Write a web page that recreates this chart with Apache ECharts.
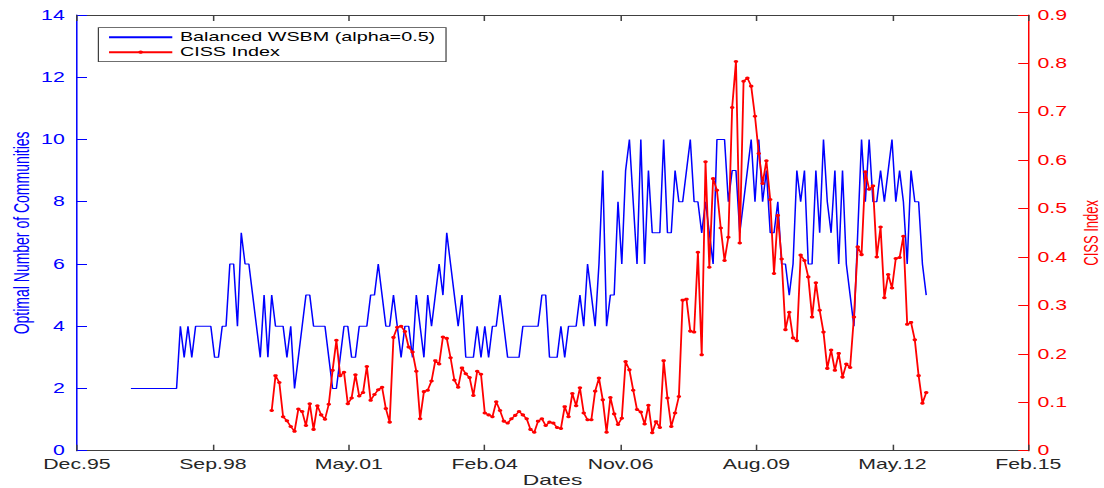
<!DOCTYPE html>
<html>
<head>
    <meta charset="utf-8">
    <title></title>
    <style type="text/css">
        body { margin: 0; overflow: hidden; background: #fff; }
        /* the original figure is stretched sideways, so the chart is drawn narrow and widened */
        #main { width: 726px; height: 488px; transform: scaleX(1.5207); transform-origin: 0 0; }
    </style>
</head>
<body>
<div id="main"></div>

<script type="text/javascript" src="https://cdn.jsdelivr.net/npm/echarts@6/dist/echarts.min.js"></script>
<script type="text/javascript">
    // x axis: days after 6-Dec-1995, ticks every 1000 days
    var tickLabels = ['Dec.95', 'Sep.98', 'May.01', 'Feb.04', 'Nov.06', 'Aug.09', 'May.12', 'Feb.15'];
    var dayStep = 28;          // one observation every 4 weeks
    var wsbmStartDay = 397;
    var cissStartDay = 1433;

    var wsbmCommunities = [
        2, 2, 2, 2, 2, 2, 2, 2, 2, 2, 2, 2, 2,
        4, 3, 4, 3, 4, 4, 4, 4, 4, 3, 3, 4, 4, 6, 6, 4, 7, 6, 6, 5, 4, 3, 5, 3, 5, 4, 4, 4, 3,
        4, 2, 3, 4, 5, 5, 4, 4, 4, 4, 3, 2, 2, 3, 4, 4, 3, 3, 4, 4, 4, 5, 5, 6, 5, 4, 4, 5, 4, 3, 4, 4, 3, 5, 4, 3,
        5, 4, 5, 6, 5, 7, 6, 5, 4, 5, 3, 3, 3, 4, 3, 4, 3, 4, 4, 5, 4, 3, 3, 3, 3, 4, 4, 4, 4, 4, 5, 5, 3, 3, 3, 4, 3, 4, 4, 4, 5, 4, 6,
        5, 4, 6, 9, 4, 5, 5, 8, 6, 9, 10, 8, 6, 10, 6, 9, 7, 7, 7, 10, 7, 7, 9, 8, 8, 9, 10, 8, 8, 7, 8, 7,
        6, 10, 10, 10, 8, 9, 9, 7, 8, 9, 10, 8, 10, 8, 9, 7, 7, 8, 6, 6, 5, 6, 9, 8, 9, 6, 6,
        9, 7, 10, 8, 7, 9, 6, 9, 6, 5, 4, 7, 10, 8, 10, 8, 8, 9, 8, 9, 10, 8, 9, 8, 6, 9, 8, 8, 6, 5
    ];

    var cissIndex = [
        0.083, 0.155, 0.141, 0.070, 0.062, 0.050, 0.040, 0.086, 0.081, 0.052, 0.097, 0.044, 0.093, 0.074, 0.065,
        0.096, 0.166, 0.228, 0.155, 0.162, 0.097, 0.109, 0.157, 0.113, 0.120, 0.174, 0.104, 0.116, 0.126, 0.131,
        0.087, 0.059, 0.234, 0.255, 0.257, 0.246, 0.214, 0.204, 0.164, 0.066,
        0.122, 0.125, 0.144, 0.186, 0.179, 0.235, 0.232, 0.192, 0.146, 0.131, 0.171, 0.159, 0.151, 0.114, 0.164,
        0.158, 0.078, 0.074, 0.070, 0.101, 0.083, 0.061, 0.057, 0.066, 0.073, 0.081, 0.074, 0.066, 0.044, 0.038,
        0.061, 0.066, 0.052, 0.059, 0.057, 0.048, 0.046, 0.091, 0.070, 0.118, 0.093, 0.130, 0.078, 0.064,
        0.064, 0.123, 0.150, 0.105, 0.038, 0.110, 0.076, 0.054, 0.067, 0.184, 0.167, 0.125, 0.085, 0.080, 0.055,
        0.094, 0.037, 0.060, 0.048, 0.186, 0.109, 0.050, 0.078, 0.112, 0.311, 0.313, 0.247, 0.245, 0.410, 0.198,
        0.597, 0.379,
        0.562, 0.538, 0.460, 0.393, 0.441, 0.709, 0.804, 0.429, 0.763, 0.770, 0.753, 0.691, 0.614, 0.552, 0.599,
        0.519, 0.366, 0.486, 0.396, 0.250, 0.286, 0.233, 0.227, 0.404, 0.393, 0.359, 0.276,
        0.347, 0.290, 0.245, 0.170, 0.208, 0.166, 0.201, 0.152, 0.179, 0.172, 0.276, 0.421, 0.405, 0.576, 0.540,
        0.547, 0.400, 0.462, 0.316, 0.364, 0.336, 0.397, 0.399, 0.443, 0.261, 0.265, 0.229, 0.155, 0.098, 0.120
    ];

    var font = 'Liberation Sans, Arial, Helvetica, sans-serif';
    var axisGray = '#404040';

    var wsbmPoints = wsbmCommunities.map(function (v, i) { return [wsbmStartDay + i * dayStep, v]; });
    var cissPoints = cissIndex.map(function (v, i) { return [cissStartDay + i * dayStep, v]; });

    var myChart = echarts.init(document.getElementById('main'), null, { renderer: 'svg' });

    myChart.setOption({
        animation: false,
        grid: { left: 50.6, right: 49.8, top: 15, bottom: 37.3, containLabel: false, outerBoundsMode: 'none' },
        legend: {
            orient: 'vertical',
            left: 64.7,
            top: 27.7,
            itemWidth: 41.6,
            itemHeight: 4,
            itemGap: 0,
            padding: [2, 7, 2, 6],
            borderColor: axisGray,
            borderWidth: 0.8,
            backgroundColor: '#fff',
            textStyle: { fontFamily: font, fontSize: 13, color: '#000', lineHeight: 15 },
            data: [
                { name: 'Balanced WSBM (alpha=0.5)', itemStyle: { opacity: 0 } },
                { name: 'CISS Index' }
            ]
        },
        xAxis: [{
            type: 'value',
            min: 0,
            max: 7000,
            interval: 1000,
            position: 'bottom',
            splitLine: { show: false },
            axisLine: { onZero: false, lineStyle: { color: axisGray, width: 1 } },
            axisTick: { inside: true, length: 6, lineStyle: { color: axisGray } },
            axisLabel: {
                margin: 7, fontFamily: font, fontSize: 14, lineHeight: 13, color: '#262626',
                showMinLabel: true, showMaxLabel: true,
                formatter: function (v) { return tickLabels[Math.round(v / 1000)]; }
            },
            name: 'Dates',
            nameLocation: 'middle',
            nameGap: 22,
            nameMoveOverlap: false,
            nameTextStyle: { fontFamily: font, fontSize: 15, color: '#262626' }
        }, {
            type: 'value',
            min: 0,
            max: 7000,
            interval: 1000,
            position: 'top',
            splitLine: { show: false },
            axisLine: { onZero: false, lineStyle: { color: axisGray, width: 1 } },
            axisTick: { inside: true, length: 6, lineStyle: { color: axisGray } },
            axisLabel: { show: false }
        }],
        yAxis: [{
            type: 'value',
            min: 0,
            max: 14,
            interval: 2,
            position: 'left',
            splitLine: { show: false },
            axisLine: { show: true, onZero: false, lineStyle: { color: '#0000ff', width: 1 } },
            axisTick: { show: true, inside: true, length: 6.6, lineStyle: { color: '#0000ff' } },
            axisLabel: { margin: 8, fontFamily: font, fontSize: 14, lineHeight: 12, color: '#0000ff' },
            name: 'Optimal Number of Communities',
            nameLocation: 'middle',
            nameRotate: 90,
            nameGap: 29,
            nameMoveOverlap: false,
            nameTextStyle: { fontFamily: font, fontSize: 14, color: '#0000ff' }
        }, {
            type: 'value',
            min: 0,
            max: 0.9,
            interval: 0.1,
            position: 'right',
            splitLine: { show: false },
            axisLine: { show: true, onZero: false, lineStyle: { color: '#ff0000', width: 1 } },
            axisTick: { show: true, inside: true, length: 6.6, lineStyle: { color: '#ff0000' } },
            axisLabel: { margin: 6, fontFamily: font, fontSize: 14, lineHeight: 12, color: '#ff0000' },
            name: 'CISS Index',
            nameLocation: 'middle',
            nameRotate: 90,
            nameGap: 35,
            nameMoveOverlap: false,
            nameTextStyle: { fontFamily: font, fontSize: 13, color: '#ff0000' }
        }],
        series: [{
            name: 'Balanced WSBM (alpha=0.5)',
            type: 'line',
            xAxisIndex: 0,
            yAxisIndex: 0,
            symbol: 'none',
            itemStyle: { color: '#0000ff' },
            lineStyle: { color: '#0000ff', width: 1 },
            data: wsbmPoints
        }, {
            name: 'CISS Index',
            type: 'line',
            xAxisIndex: 0,
            yAxisIndex: 1,
            symbol: 'circle',
            symbolSize: 3,
            itemStyle: { color: '#ff0000' },
            lineStyle: { color: '#ff0000', width: 1.2 },
            data: cissPoints
        }]
    });
</script>

</body>
</html>
